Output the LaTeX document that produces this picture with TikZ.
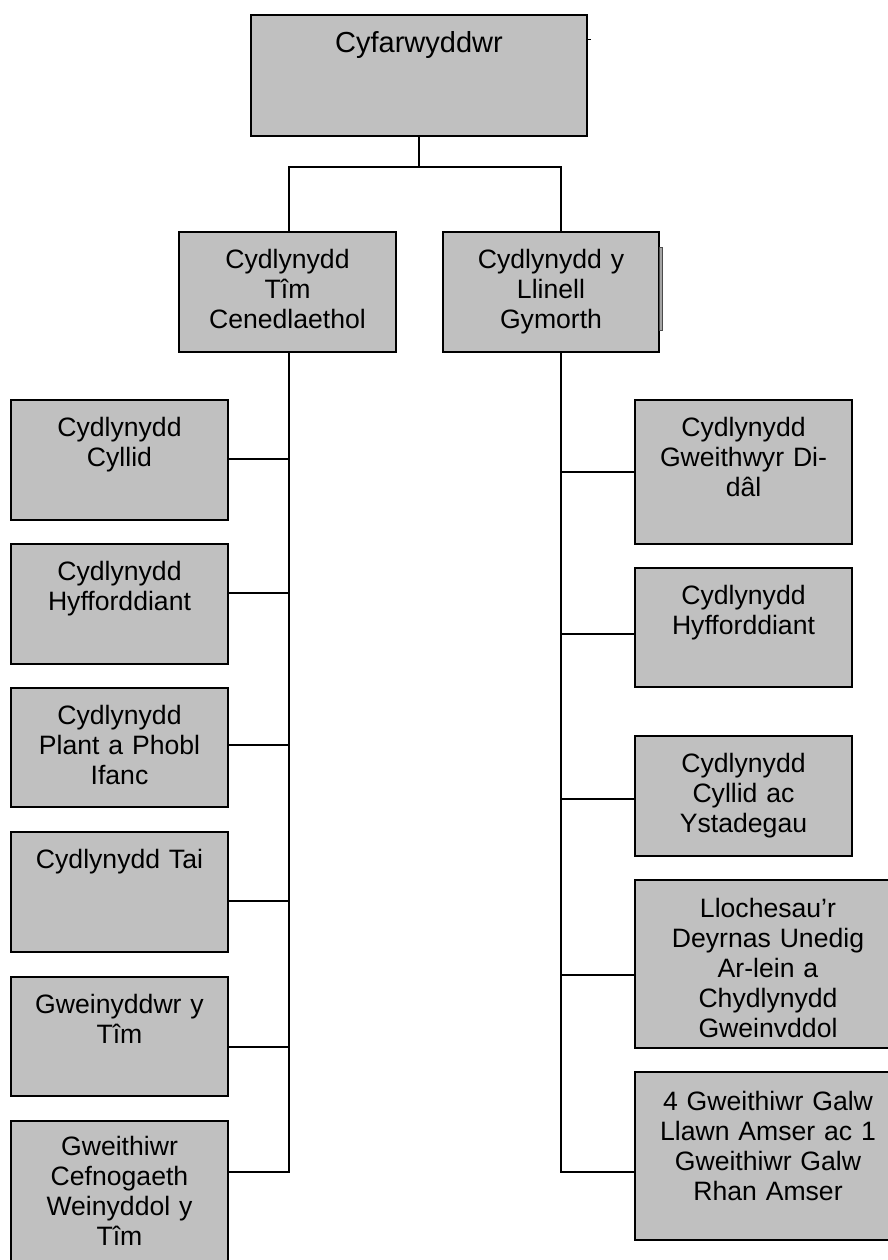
\documentclass[tikz,border=0pt]{standalone}
\usepackage{fontspec}
\setmainfont{Liberation Sans}
\definecolor{boxgray}{HTML}{C0C0C0}
\begin{document}
\begin{tikzpicture}[x=1pt,y=-1pt,
  orgbox/.style={draw=black, line width=1.7pt, fill=boxgray, inner sep=0pt, outer sep=0pt, anchor=north west},
  lbl/.style={anchor=base, text width=300pt, align=center, inner sep=0pt, font=\fontsize{26.6}{30}\selectfont},
  conn/.style={line width=1.7pt, line cap=rect}]
\useasboundingbox (0,0) rectangle (888,1260);
\clip (0,0) rectangle (888,1260);

% boxes
\node[orgbox, minimum width=336pt, minimum height=121pt] (top) at (251,15) {};
\node[orgbox, minimum width=217pt, minimum height=120pt] (lmid) at (179,232) {};
\node[orgbox, minimum width=216pt, minimum height=120pt] (rmid) at (443,232) {};

\node[orgbox, minimum width=217pt, minimum height=120pt] (l1) at (11,400) {};
\node[orgbox, minimum width=217pt, minimum height=120pt] (l2) at (11,544) {};
\node[orgbox, minimum width=217pt, minimum height=119pt] (l3) at (11,688) {};
\node[orgbox, minimum width=217pt, minimum height=120pt] (l4) at (11,832) {};
\node[orgbox, minimum width=217pt, minimum height=119pt] (l5) at (11,977) {};
\node[orgbox, minimum width=217pt, minimum height=170pt] (l6) at (11,1121) {};

\node[orgbox, minimum width=217pt, minimum height=144pt] (r1) at (635,400) {};
\node[orgbox, minimum width=217pt, minimum height=119pt] (r2) at (635,568) {};
\node[orgbox, minimum width=217pt, minimum height=120pt] (r3) at (635,736) {};
\node[orgbox, minimum width=266pt, minimum height=168pt] (r4) at (635,880) {};
\node[orgbox, minimum width=266pt, minimum height=168pt] (r5) at (635,1072) {};

% stray marks
\draw[line width=1pt] ([yshift=-25pt]top.north east) -- ++(4,0);
\draw[draw=gray!60!black, fill=gray!70, line width=0.6pt] ([yshift=-15pt]rmid.north east) rectangle ([xshift=3pt,yshift=22pt]rmid.south east);

% labels
\node[lbl, font=\fontsize{29}{32}\selectfont] (top-t) at (419,53) {Cyfarwyddwr};
\node[lbl] (lmid-t) at (287.5,268) {Cydlynydd\\Tîm\\Cenedlaethol};
\node[lbl] (rmid-t) at (551,268) {Cydlynydd y\\Llinell\\Gymorth};

\node[lbl] (l1-t) at (119.5,436) {Cydlynydd\\Cyllid};
\node[lbl] (l2-t) at (119.5,580) {Cydlynydd\\Hyfforddiant};
\node[lbl] (l3-t) at (119.5,724) {Cydlynydd\\Plant a Phobl\\Ifanc};
\node[lbl] (l4-t) at (119.5,868) {Cydlynydd Tai};
\node[lbl] (l5-t) at (119.5,1013) {Gweinyddwr y\\Tîm};
\node[lbl] (l6-t) at (119.5,1155) {Gweithiwr\\Cefnogaeth\\Weinyddol y\\Tîm};

\node[lbl] (r1-t) at (743.5,436) {Cydlynydd\\Gweithwyr Di-\\dâl};
\node[lbl] (r2-t) at (743.5,604) {Cydlynydd\\Hyfforddiant};
\node[lbl] (r3-t) at (743.5,772) {Cydlynydd\\Cyllid ac\\Ystadegau};
\node[lbl] (r4-t) at (768,917) {Llochesau’r\\Deyrnas Unedig\\Ar-lein a\\Chydlynydd\\Gweinvddol};
\node[lbl] (r5-t) at (768,1110) {4 Gweithiwr Galw\\Llawn Amser ac 1\\Gweithiwr Galw\\Rhan Amser};

% connector junctions
\coordinate (jt) at (419,167);
\coordinate (lj) at (289,167);
\coordinate (rj) at (561,167);
\coordinate (ls1) at (289,459);
\coordinate (ls2) at (289,593);
\coordinate (ls3) at (289,745);
\coordinate (ls4) at (289,901);
\coordinate (ls5) at (289,1047);
\coordinate (ls6) at (289,1172);
\coordinate (rs1) at (561,472);
\coordinate (rs2) at (561,634);
\coordinate (rs3) at (561,799);
\coordinate (rs4) at (561,975);
\coordinate (rs5) at (561,1172);

% connectors
\draw[conn] (top.south) -- (jt);
\draw[conn] (lj |- lmid.north) -- (lj) -- (rj) -- (rj |- rmid.north);
\draw[conn] (ls1 |- lmid.south) -- (ls6) -- (ls6 -| l6.east);
\draw[conn] (ls1) -- (ls1 -| l1.east);
\draw[conn] (ls2) -- (ls2 -| l2.east);
\draw[conn] (ls3) -- (ls3 -| l3.east);
\draw[conn] (ls4) -- (ls4 -| l4.east);
\draw[conn] (ls5) -- (ls5 -| l5.east);
\draw[conn] (rs1 |- rmid.south) -- (rs5) -- (rs5 -| r5.west);
\draw[conn] (rs1) -- (rs1 -| r1.west);
\draw[conn] (rs2) -- (rs2 -| r2.west);
\draw[conn] (rs3) -- (rs3 -| r3.west);
\draw[conn] (rs4) -- (rs4 -| r4.west);
\end{tikzpicture}
\end{document}
